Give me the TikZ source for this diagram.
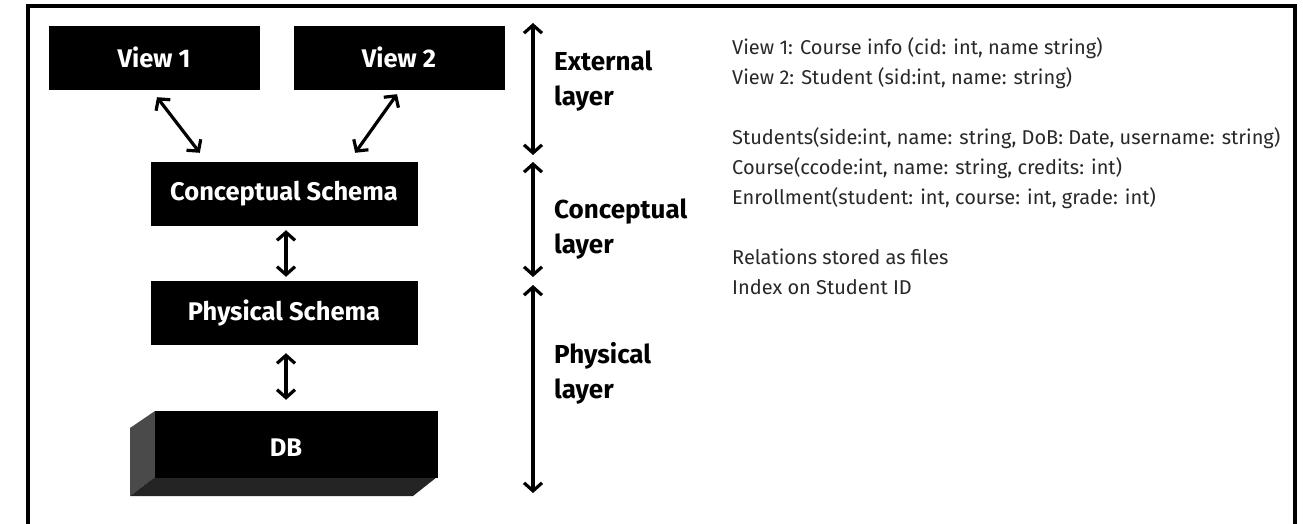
\documentclass[tikz,border=0pt]{standalone}
\usepackage{fontspec}
\setmainfont{Fira Sans}
\usetikzlibrary{arrows.meta,calc}
\definecolor{txt}{RGB}{40,40,40}
\definecolor{sideface}{RGB}{74,74,74}
\definecolor{bottomface}{RGB}{36,36,36}
\tikzset{
  blackbox/.style={fill=black, draw=black, text=white, font=\fontsize{25.5}{28}\selectfont\bfseries, inner sep=0pt},
  arr/.style={line width=3.2pt, {Straight Barb[length=8pt,width=18pt]}-{Straight Barb[length=8pt,width=18pt]}},
  layerlabel/.style={anchor=base west, align=left, inner sep=0pt, font=\fontsize{26}{35}\selectfont\bfseries},
  notes/.style={anchor=base west, align=left, inner sep=0pt, text=txt, font=\fontsize{20}{30}\selectfont}
}
\begin{document}
\begin{tikzpicture}[x=1pt,y=-1pt]
\useasboundingbox (0,0) rectangle (1303,524);
\clip (0,0) rectangle (1303,524);
% frame
\draw[line width=4pt] (28,6) rectangle (1295,540);
% boxes
\node[blackbox, minimum width=210pt, minimum height=63pt] (v1) at (154,57.5) {View 1};
\node[blackbox, minimum width=210pt, minimum height=63pt] (v2) at (399,57.5) {View 2};
\node[blackbox, minimum width=266pt, minimum height=63pt] (cs) at (284,193.5) {Conceptual Schema};
\node[blackbox, minimum width=266pt, minimum height=63pt] (ps) at (284,312.5) {Physical Schema};
% DB box
\fill[sideface] (155,411) -- (130,428) -- (130,496) -- (155,477) -- cycle;
\fill[bottomface] (155,477) -- (437,477) -- (413,496) -- (130,496) -- cycle;
\node[blackbox, minimum width=282pt, minimum height=66pt] (db) at (296,444) {};
\node[text=white, font=\fontsize{25.5}{28}\selectfont\bfseries, inner sep=0pt] (dbl) at (286,448) {DB};
% connectors
\draw[arr] ([shift={(3,8)}]v1.south) -- ([shift={(49,-9)}]cs.north west);
\draw[arr] ([shift={(-2,5)}]v2.south) -- ([shift={(-62,-9)}]cs.north east);
\draw[arr] ([shift={(2,5)}]cs.south) -- ([shift={(2,-4)}]ps.north);
\draw[arr] ([shift={(2,9)}]ps.south) -- ([shift={(-10,-11)}]db.north);
% layer arrows
\coordinate (l1a) at (533,23);
\coordinate (l1b) at (533,155);
\coordinate (l2a) at (533,162);
\coordinate (l2b) at (533,277);
\coordinate (l3a) at (533,285);
\coordinate (l3b) at (533,493);
\draw[arr] (l1a) -- (l1b);
\draw[arr] (l2a) -- (l2b);
\draw[arr] (l3a) -- (l3b);
% layer labels (anchored at baseline of last line)
\node[layerlabel] (ext) at (554,106) {External\\layer};
\node[layerlabel] (con) at (554,253) {Conceptual\\layer};
\node[layerlabel] (phy) at (554,398) {Physical\\layer};
% notes (anchored at baseline of last line)
\node[notes] (n) at (732,294) {View 1: Course info (cid: int, name string)\\
View 2: Student (sid:int, name: string)\\[30pt]
Students(side:int, name: string, DoB: Date, username: string)\\
Course(ccode:int, name: string, credits: int)\\
Enrollment(student: int, course: int, grade: int)\\[30pt]
Relations stored as files\\
Index on Student ID};
\end{tikzpicture}
\end{document}
